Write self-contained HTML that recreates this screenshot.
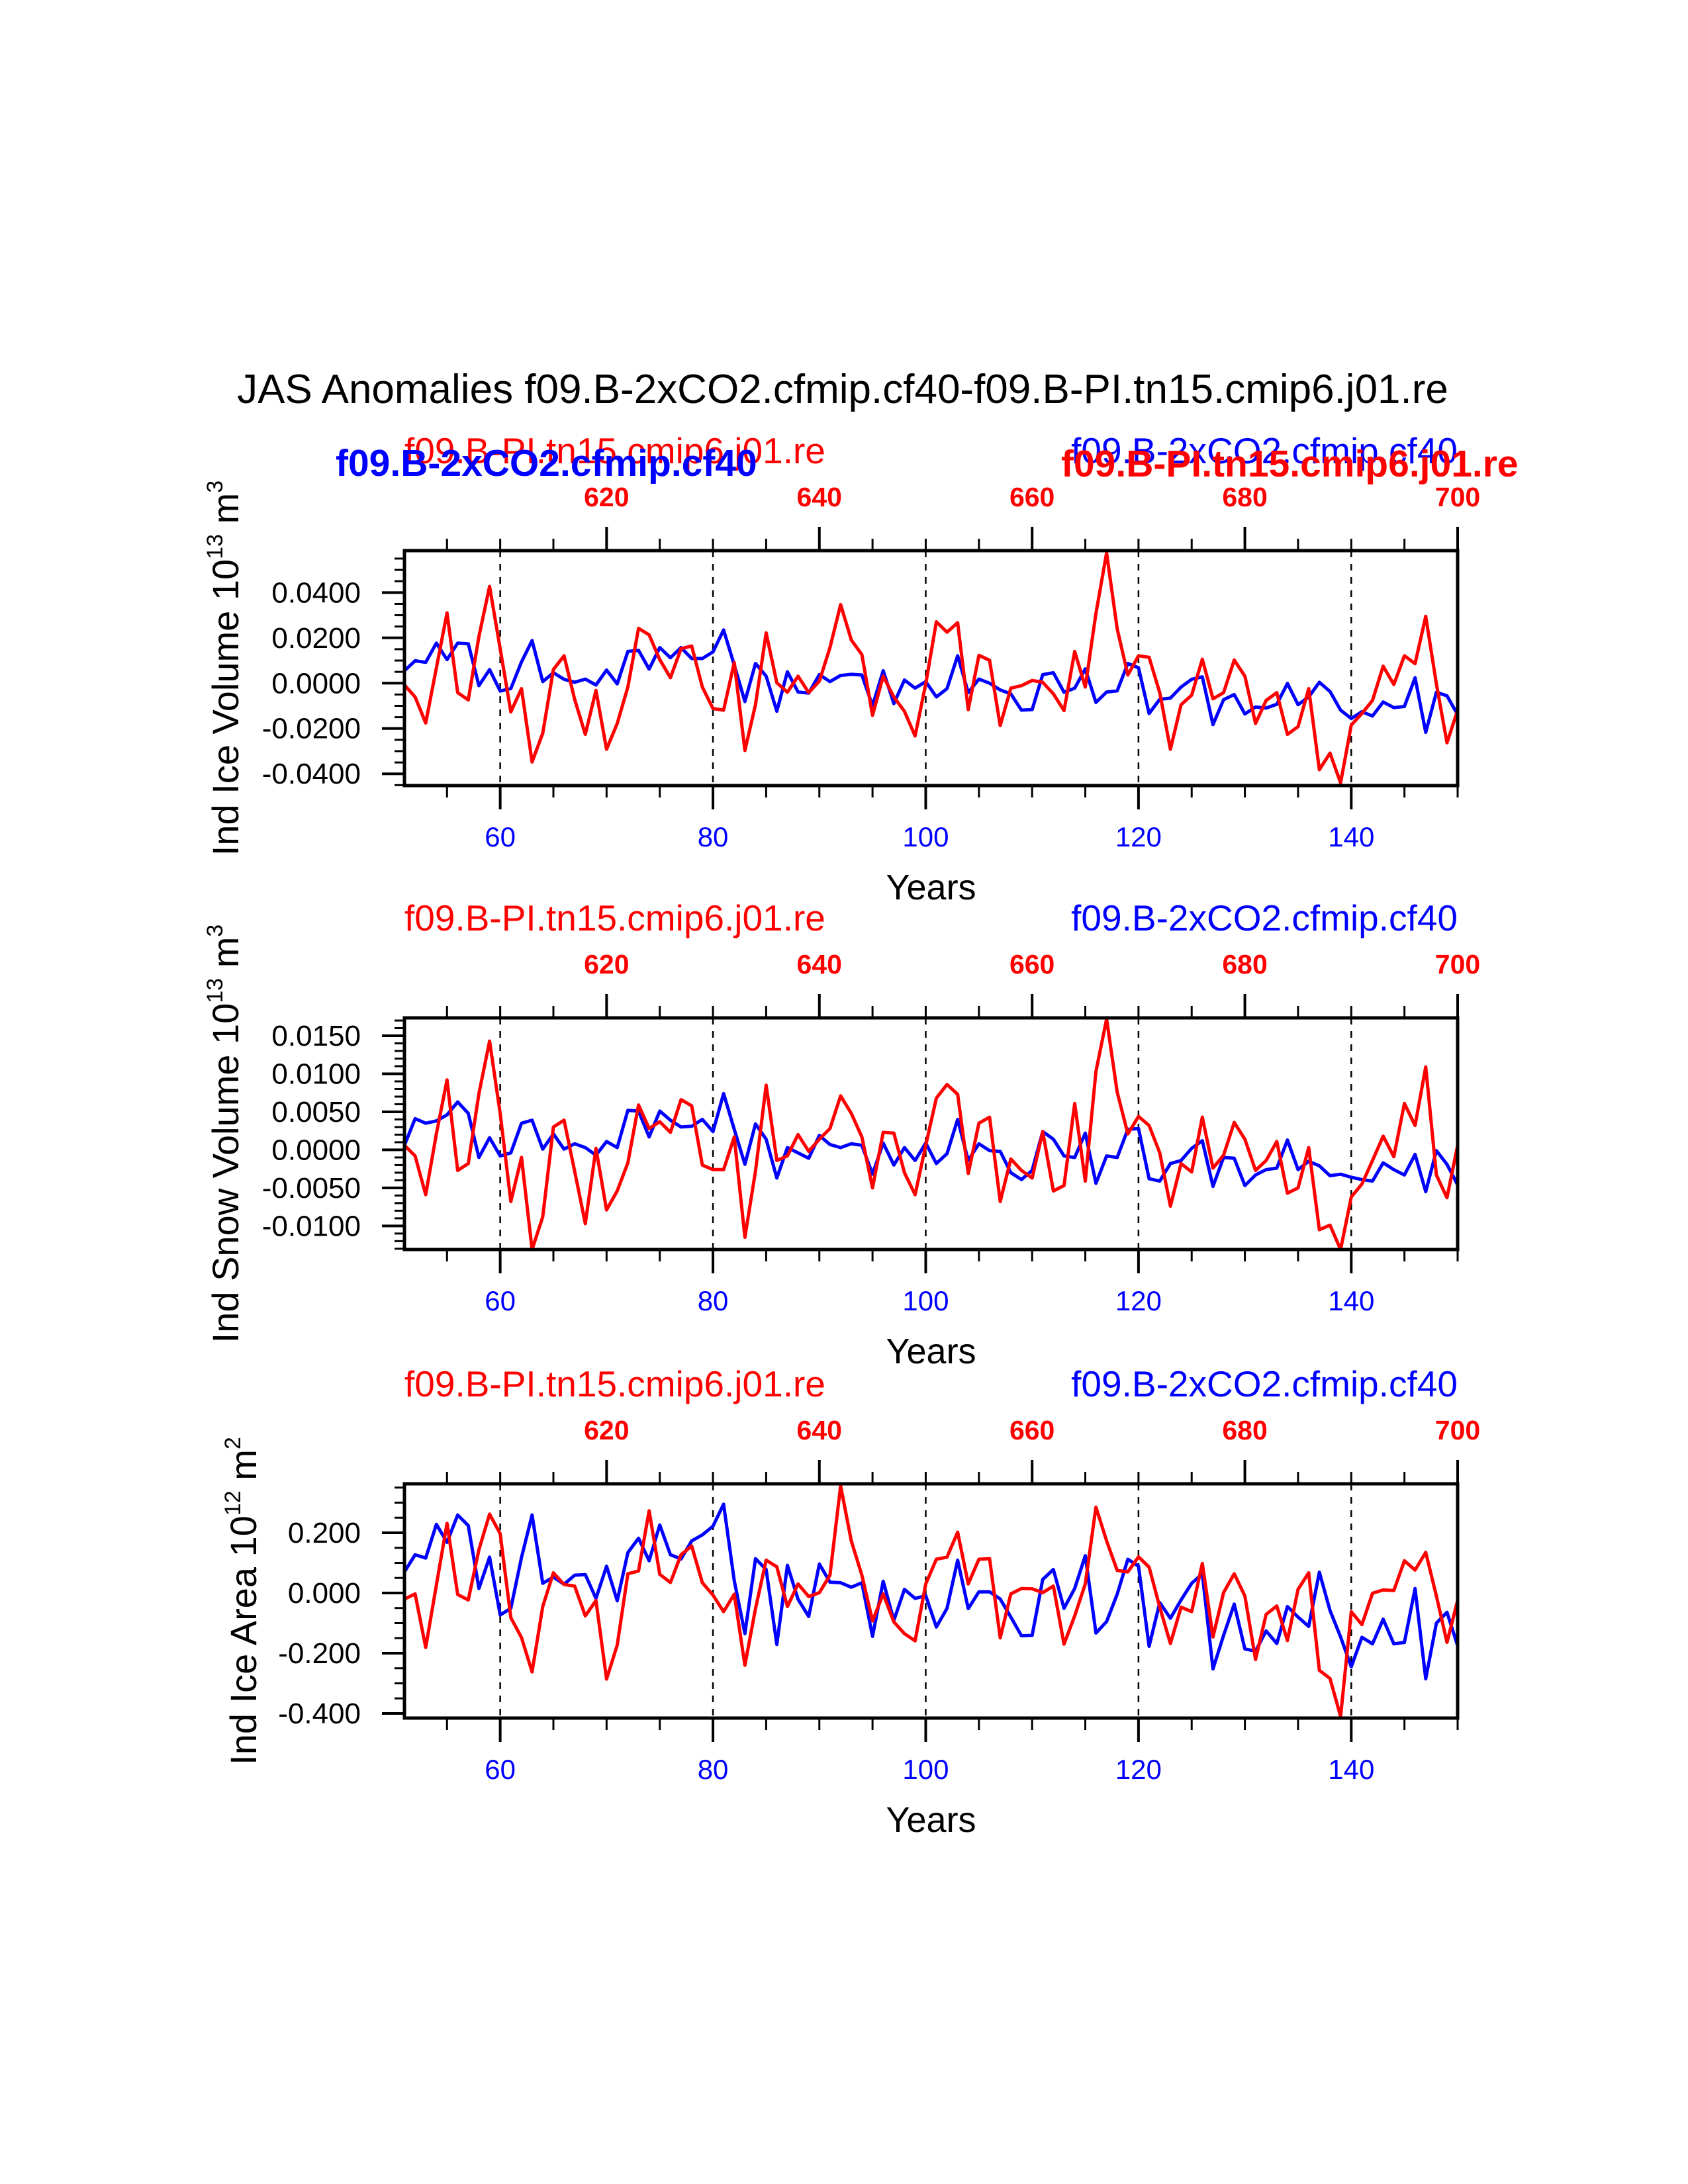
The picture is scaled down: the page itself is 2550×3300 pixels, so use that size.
<!DOCTYPE html>
<html><head><meta charset="utf-8">
<style>
html,body{margin:0;padding:0;background:#fff;}
svg{display:block;font-family:"Liberation Sans",Arial,sans-serif;}
</style></head>
<body>
<svg id="chart" width="2550" height="3300" viewBox="0 0 2550 3300" xmlns="http://www.w3.org/2000/svg">
<rect x="0" y="0" width="2550" height="3300" fill="#fff"/>
<text x="1273" y="609" font-size="62" text-anchor="middle" fill="#000">JAS Anomalies f09.B-2xCO2.cfmip.cf40-f09.B-PI.tn15.cmip6.j01.re</text>
</svg>
<script>
// years
const startYear = 51;
const endYear = 150;
const piStart = 601;
const bottomTicks = [60, 80, 100, 120, 140];
const topTicks = [620, 640, 660, 680, 700];

// panel 1: ice volume (units 1e-4 x 10^13 m^3)
const iceVolRed = [-8,-61,-176,67,310,-42,-74,206,427,152,-127,-24,-348,-221,60,121,-71,-226,-32,-292,-178,-17,242,213,104,24,152,164,-17,-112,-119,91,-297,-95,222,2,-40,31,-42,9,157,347,191,126,-142,31,-61,-124,-233,-3,271,225,267,-117,123,101,-187,-22,-11,12,4,-47,-121,140,-17,308,575,240,36,121,114,-42,-292,-95,-53,106,-69,-42,102,31,-178,-76,-42,-226,-192,-24,-382,-309,-440,-185,-134,-76,75,-6,121,86,295,-3,-263,-119];
const iceVolBlue = [55,99,92,177,104,177,174,-11,60,-35,-24,94,188,7,46,17,4,18,-8,58,-3,140,145,62,157,112,157,109,109,138,235,80,-81,87,31,-124,50,-39,-44,38,7,34,39,36,-100,55,-90,14,-22,7,-61,-24,121,-42,18,0,-30,-47,-119,-117,38,46,-40,-22,63,-85,-39,-34,87,68,-134,-71,-66,-17,17,28,-183,-73,-50,-136,-105,-110,-93,-1,-95,-61,4,-37,-119,-156,-126,-145,-83,-108,-103,24,-217,-40,-56,-139];
const iceVolTicks = [400, 200, 0, -200, -400];
const iceVolTickLabels = ["0.0400","0.0200","0.0000","-0.0200","-0.0400"];

// panel 2: snow volume (units 1e-3 x 10^13 m^3)
const snowRed = [0.6,-0.8,-5.9,2.1,9.2,-2.7,-1.8,7.4,14.3,4.8,-6.8,-1.0,-13.1,-8.8,3.0,3.9,-2.8,-9.7,0.2,-7.9,-5.4,-1.7,5.9,2.8,3.7,2.3,6.6,5.8,-2.0,-2.6,-2.6,1.7,-11.5,-2.8,8.5,-1.4,-0.8,2.0,-0.2,1.4,2.8,7.1,4.8,1.7,-5.0,2.3,2.2,-3.0,-5.9,0.6,6.8,8.6,7.3,-3.1,3.5,4.3,-6.8,-1.2,-2.7,-3.7,2.4,-5.4,-4.7,6.1,-4.1,10.3,17.2,7.6,2.1,4.4,3.2,-0.4,-7.4,-1.8,-2.9,4.3,-2.4,-0.7,3.6,1.4,-2.7,-1.4,1.1,-5.7,-5.0,0.3,-10.5,-9.9,-13.1,-6.2,-4.5,-1.4,1.8,-0.9,6.1,3.2,10.9,-3.3,-6.3,0.6];
const snowBlue = [0.6,4.1,3.5,3.8,4.6,6.3,4.8,-1.0,1.6,-0.8,-0.4,3.5,3.9,0.1,2.1,0.1,0.8,0.3,-0.7,1.1,0.3,5.2,5.1,1.7,5.1,3.9,3.0,3.1,4.0,2.4,7.4,2.7,-1.9,3.4,1.4,-3.7,0.3,-0.4,-1.1,1.9,0.7,0.3,0.8,0.6,-3.2,0.9,-2.0,0.3,-1.4,0.9,-1.8,-0.5,4.0,-1.4,0.8,-0.1,-0.2,-3.0,-3.9,-2.7,2.4,1.4,-0.8,-1.0,2.2,-4.4,-0.8,-1.0,2.7,2.8,-3.8,-4.1,-1.8,-1.4,0.2,1.2,-4.8,-1.0,-1.1,-4.7,-3.3,-2.6,-2.4,1.3,-2.6,-1.5,-2.1,-3.4,-3.2,-3.6,-3.9,-4.1,-1.7,-2.6,-3.3,-0.6,-5.5,-0.1,-1.9,-4.6];
const snowTicks = [15, 10, 5, 0, -5, -10];
const snowTickLabels = ["0.0150","0.0100","0.0050","0.0000","-0.0050","-0.0100"];

// panel 3: ice area (units 1e-3 x 10^12 m^2)
const areaRed = [-20,-3,-181,26,231,-5,-23,144,262,197,-82,-148,-262,-45,67,28,23,-76,-25,-286,-173,64,73,273,62,35,127,156,34,-7,-62,-4,-240,-52,109,87,-45,30,-12,1,59,356,173,59,-93,-3,-96,-135,-159,30,112,119,202,30,112,114,-149,-3,15,14,1,23,-170,-76,30,285,173,75,70,120,86,-47,-168,-47,-62,98,-146,1,64,-10,-221,-71,-43,-158,12,67,-257,-284,-410,-62,-105,-1,10,8,107,76,135,-10,-164,-25];
const areaBlue = [70,127,116,228,168,259,224,15,119,-73,-51,118,259,32,53,29,59,61,-18,89,-26,134,182,107,226,127,113,173,193,222,295,41,-135,114,78,-171,92,-21,-78,96,36,34,19,34,-144,39,-91,12,-18,-9,-113,-51,109,-52,4,4,-20,-80,-142,-141,45,78,-51,15,124,-133,-95,-4,112,89,-177,-32,-84,-23,32,63,-252,-141,-37,-186,-193,-126,-168,-45,-80,-111,69,-58,-146,-245,-147,-169,-87,-169,-164,15,-285,-100,-64,-175];
const areaTicks = [200, 0, -200, -400];
const areaTickLabels = ["0.200","0.000","-0.200","-0.400"];

const NS = "http://www.w3.org/2000/svg";
const svg = document.getElementById("chart");
const X0 = 611, X1 = 2202;
function xScale(yr){ return X0 + (yr - startYear) * (X1 - X0) / (endYear - startYear); }
function mk(tag, attrs, parent){
  const e = document.createElementNS(NS, tag);
  for (const k in attrs) e.setAttribute(k, attrs[k]);
  (parent || svg).appendChild(e);
  return e;
}

function panel(p){
  const g = mk("g", {});
  
  
  const top = p.top, bot = p.bottom;
  function yScale(v){ return top + (p.vmax - v) * (bot - top) / (p.vmax - p.vmin); }

  bottomTicks.forEach(t => {
    const l = mk("line", {x1: xScale(t), x2: xScale(t), y1: top, y2: bot, stroke: "#000", "stroke-width": 2.5, "stroke-dasharray": "10,10"}, g);
    
    
  });

  for (let yr = 55; yr <= 150; yr += 5) {
    const x = xScale(yr);
    const major = (yr % 20 === 0);
    const lb = mk("line", {x1: x, x2: x, y1: bot, y2: bot + (major ? 36 : 18), stroke: "#000", "stroke-width": major ? 4 : 3}, g);
    
    
    const piYr = yr - startYear + piStart;
    const majorTop = ((piYr) % 20 === 0);
    const lt = mk("line", {x1: x, x2: x, y1: top, y2: top - (majorTop ? 36 : 18), stroke: "#000", "stroke-width": majorTop ? 4 : 3}, g);
    
    
  }
  bottomTicks.forEach(t => {
    const tx = mk("text", {x: xScale(t), y: bot + 92, "font-size": 42, "text-anchor": "middle", fill: "#0000ff"}, g);
    
    
    tx.textContent = t;
  });
  topTicks.forEach(t => {
    const tx = mk("text", {x: xScale(t - piStart + startYear), y: top - 67, "font-size": 41, "font-weight": "bold", "text-anchor": "middle", fill: "#ff0000"}, g);
    
    
    tx.textContent = t;
  });

  for (let v = p.minorStart; v >= p.vmin; v -= p.minor) {
    const y = yScale(v);
    const isMajor = p.ticks.some(t => Math.abs(t - v) < 1e-6);
    const l = mk("line", {x1: X0 - (isMajor ? 34 : 15), x2: X0, y1: y, y2: y, stroke: "#000", "stroke-width": isMajor ? 4 : 3}, g);
    
    
  }
  p.ticks.forEach((t, i) => {
    const tx = mk("text", {x: 545, y: yScale(t) + 15, "font-size": 44, "text-anchor": "end", fill: "#000"}, g);
    
    
    tx.textContent = p.labels[i];
  });

  function series(vals, color, nm){
    const pts = vals.map((v, i) => xScale(startYear + i).toFixed(1) + "," + yScale(v).toFixed(1)).join(" ");
    const pl = mk("polyline", {points: pts, fill: "none", stroke: color, "stroke-width": 5, "stroke-linejoin": "round"}, g);
    
    
  }
  series(p.blue, "#0000ff", 'series-2xco2');
  series(p.red, "#ff0000", 'series-pi');

  const fr = mk("rect", {x: X0, y: top, width: X1 - X0, height: bot - top, fill: "none", stroke: "#000", "stroke-width": 5}, g);
  
  

  const rl = mk("text", {x: X0, y: top - 132, "font-size": 55, fill: "#ff0000"}, g);
  
  
  rl.textContent = "f09.B-PI.tn15.cmip6.j01.re";
  const bl = mk("text", {x: X1, y: top - 132, "font-size": 55, "text-anchor": "end", fill: "#0000ff"}, g);
  
  
  bl.textContent = "f09.B-2xCO2.cfmip.cf40";
  if (p.overlay) {
    const b2 = mk("text", {x: 507, y: top - 113, "font-size": 57, "font-weight": "bold", fill: "#0000ff"}, g);
    
    
    b2.textContent = "f09.B-2xCO2.cfmip.cf40";
    const r2 = mk("text", {x: 1603, y: top - 112, "font-size": 57, "font-weight": "bold", fill: "#ff0000"}, g);
    
    
    r2.textContent = "f09.B-PI.tn15.cmip6.j01.re";
  }

  const xt = mk("text", {x: (X0 + X1) / 2, y: bot + 172, "font-size": 54, "text-anchor": "middle", fill: "#000"}, g);
  
  
  xt.textContent = "Years";

  const cy = (top + bot) / 2;
  const yt = mk("text", {x: p.titleX, y: cy, "font-size": 56, "text-anchor": "middle", fill: "#000", transform: "rotate(-90 " + p.titleX + " " + cy + ")"}, g);
  
  
  const t1 = mk("tspan", {}, yt); t1.textContent = p.title + " 10";
  const t2 = mk("tspan", {dy: -24, "font-size": 34}, yt); t2.textContent = p.exp;
  const t3 = mk("tspan", {dy: 24}, yt); t3.textContent = " m";
  const t4 = mk("tspan", {dy: -24, "font-size": 34}, yt); t4.textContent = p.unitExp;
}

panel({name: "ice-volume-panel", top: 832, bottom: 1187, vmax: 585, vmin: -452, ticks: iceVolTicks, labels: iceVolTickLabels, minor: 50, minorStart: 550, red: iceVolRed, blue: iceVolBlue, overlay: true, title: "Ind Ice Volume", exp: "13", unitExp: "3", titleX: 360});
panel({name: "snow-volume-panel", top: 1538, bottom: 1888, vmax: 17.35, vmin: -13.1, ticks: snowTicks, labels: snowTickLabels, minor: 1, minorStart: 17, red: snowRed, blue: snowBlue, overlay: false, title: "Ind Snow Volume", exp: "13", unitExp: "3", titleX: 360});
panel({name: "ice-area-panel", top: 2242, bottom: 2596, vmax: 362.6, vmin: -415.4, ticks: areaTicks, labels: areaTickLabels, minor: 50, minorStart: 350, red: areaRed, blue: areaBlue, overlay: false, title: "Ind Ice Area", exp: "12", unitExp: "2", titleX: 387});
</script>
</body></html>
